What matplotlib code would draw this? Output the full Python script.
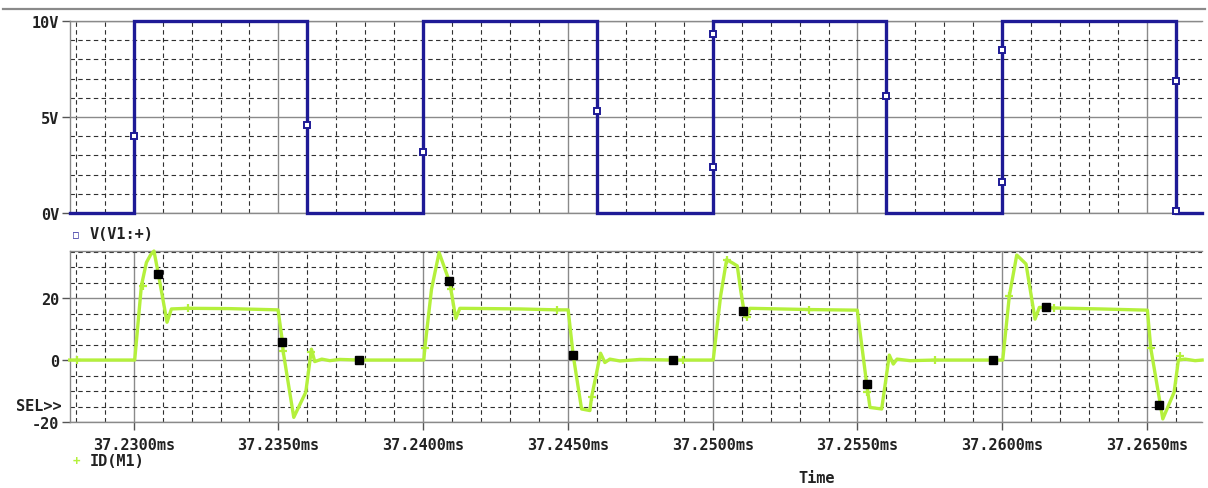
import matplotlib
matplotlib.use("Agg")
import matplotlib.pyplot as plt
from matplotlib.lines import Line2D
from matplotlib.ticker import MultipleLocator, FixedLocator
import numpy as np

# ---- data (time in ms) ----
t_start, t_end = 37.2278, 37.2669

# V(V1:+) gate drive: 0 / 10 V pulse train
v_low, v_high = 0.0, 10.0
rise_t = [37.2300, 37.2400, 37.2500, 37.2600]
fall_t = [37.2360, 37.2460, 37.2560, 37.2660]

# sample markers drawn on V(V1:+)
v_mark_t = [37.2300, 37.2360, 37.2400, 37.2460, 37.2500, 37.2500,
            37.2560, 37.2600, 37.2600, 37.2660, 37.2660]
v_mark_v = [4.0, 4.6, 3.2, 5.3, 9.3, 2.4, 6.1, 8.5, 1.6, 6.9, 0.1]

# ID(M1) drain current
id_t = [37.227789, 37.230035, 37.230266, 37.230439, 37.230587, 37.230701,
        37.230853, 37.231002, 37.231151, 37.231303, 37.231866, 37.233317,
        37.234986, 37.235138, 37.235159, 37.235529, 37.235943, 37.236140,
        37.236254, 37.236496, 37.236773, 37.237118, 37.237775, 37.240021,
        37.240055, 37.240287, 37.240549, 37.240895, 37.240954, 37.241126,
        37.241265, 37.243338, 37.244606, 37.245007, 37.245180, 37.245470,
        37.245757, 37.245815, 37.246126, 37.246275, 37.246448, 37.246793,
        37.247484, 37.248635, 37.250017, 37.250273, 37.250480, 37.250709,
        37.250847, 37.250974, 37.251078, 37.251171, 37.251285, 37.253324,
        37.254993, 37.255318, 37.255432, 37.255836, 37.256099, 37.256237,
        37.256365, 37.256814, 37.257678, 37.259692, 37.260017, 37.260245,
        37.260501, 37.260822, 37.261133, 37.261282, 37.261790, 37.263379,
        37.265014, 37.265131, 37.265546, 37.265936, 37.266085, 37.266316,
        37.266662, 37.266904]
id_val = [0.0, 0.0, 24.0, 31.5, 34.0, 35.2,
          27.7, 20.0, 12.2, 16.5, 16.7, 16.6,
          16.2, 5.9, 3.0, -18.5, -10.4, 3.5,
          -0.5, 0.3, -0.2, 0.2, 0.0, 0.0,
          3.8, 22.9, 34.7, 25.6, 22.9, 13.4,
          16.7, 16.5, 16.2, 16.2, 1.6, -15.8,
          -16.3, -12.0, 2.2, -0.8, 0.3, -0.3,
          0.2, 0.0, 0.0, 20.7, 32.4, 31.2,
          30.4, 22.0, 16.0, 13.8, 16.7, 16.3,
          16.1, -7.7, -15.3, -15.8, 1.6, -1.3,
          0.3, -0.2, 0.0, 0.0, 0.0, 20.7,
          33.9, 31.0, 13.2, 17.0, 16.8, 16.5,
          16.1, 3.8, -19.0, -10.4, 0.0, 0.3,
          -0.2, 0.0]

# black cursor squares on ID(M1)
sq_t = [37.230853, 37.235138, 37.237775, 37.240895, 37.245180, 37.248635,
        37.251054, 37.255318, 37.259692, 37.261503, 37.265428]
sq_v = [27.7, 5.9, 0.0, 25.6, 1.6, 0.0, 15.7, -7.7, 0.0, 17.0, -14.5]

# "+" sample markers on ID(M1)
plus_t = [37.228030, 37.230321, 37.231877, 37.235159, 37.236116, 37.240055,
          37.240954, 37.244606, 37.245815, 37.248981, 37.250480, 37.251171,
          37.253334, 37.255339, 37.257678, 37.260245, 37.261790, 37.265131,
          37.266143]
plus_v = [0.0, 24.0, 16.7, 3.0, 2.5, 3.8, 22.9, 16.2, -12.0, 0.0, 32.4, 13.8,
          16.3, -10.4, 0.0, 20.7, 16.8, 3.8, 1.4]

x_major = [37.2300, 37.2350, 37.2400, 37.2450, 37.2500, 37.2550, 37.2600, 37.2650]
x_labels = ["%.4fms" % t for t in x_major]

BLUE = "#1e1a96"
GREEN = "#b4f03c"
TXT = "#222222"
FONT = dict(family="DejaVu Sans Mono", weight="bold", size=11, color=TXT)

plt.rcParams["font.family"] = "DejaVu Sans Mono"
plt.rcParams["font.weight"] = "bold"

W, H = 1208, 489
fig = plt.figure(figsize=(W / 100, H / 100), dpi=100)


def px_box(left, top, right, bottom):
    return [left / W, 1 - bottom / H, (right - left) / W, (bottom - top) / H]


ax1 = fig.add_axes(px_box(70, 22, 1202, 214))
ax2 = fig.add_axes(px_box(70, 252, 1202, 423))


def style_axes(ax, ymaj, ymin, ylim):
    ax.set_xlim(t_start, t_end)
    ax.set_ylim(*ylim)
    ax.xaxis.set_major_locator(FixedLocator(x_major))
    ax.xaxis.set_minor_locator(MultipleLocator(0.001))
    ax.yaxis.set_major_locator(FixedLocator(ymaj))
    ax.yaxis.set_minor_locator(MultipleLocator(ymin))
    ax.grid(which="major", color="#8a8a8a", lw=1.0, ls="-")
    ax.grid(which="minor", color="#303030", lw=0.8, ls=(0, (4, 3)))
    ax.set_axisbelow(True)
    for s in ("left", "bottom", "top"):
        ax.spines[s].set_color("#8a8a8a")
        ax.spines[s].set_linewidth(1.0)
    ax.spines["right"].set_visible(False)
    ax.tick_params(axis="y", which="major", length=6, width=1, color="#555555",
                   pad=2, labelsize=11, labelcolor=TXT)
    ax.tick_params(which="minor", length=0)


# ---- top: V(V1:+) ----
style_axes(ax1, [0, 5, 10], 1, (0, 10))
v_t = [t_start]
v_v = [v_low]
for r, f in zip(rise_t, fall_t):
    v_t += [r, r, f, f]
    v_v += [v_low, v_high, v_high, v_low]
v_t.append(t_end)
v_v.append(v_low)
ax1.plot(v_t, v_v, color=BLUE, lw=2.4, solid_joinstyle="miter", clip_on=False, zorder=3)
ax1.plot(v_mark_t, v_mark_v, ls="none", marker="s", ms=4.2, mfc="white",
         mec=BLUE, mew=1.4, clip_on=False, zorder=4)
ax1.set_yticklabels(["0V", "5V", "10V"])
ax1.tick_params(axis="x", which="both", length=0, labelbottom=False)

# ---- bottom: ID(M1) ----
style_axes(ax2, [-20, 0, 20], 5, (-20, 35.2))
ax2.plot(id_t, id_val, color=GREEN, lw=2.4, clip_on=False, zorder=3)
ax2.plot(plus_t, plus_v, ls="none", marker="+", ms=6, mew=1.6, color=GREEN,
         clip_on=False, zorder=4)
ax2.plot(sq_t, sq_v, ls="none", marker="s", ms=6, color="black", zorder=5)
ax2.set_yticklabels(["-20", "0", "20"])
ax2.set_xticklabels(x_labels)
ax2.tick_params(axis="x", which="major", length=6, width=1, color="#555555",
                pad=5, labelsize=11, labelcolor=TXT)

# ---- legends and annotations ----
fig.text(76 / W, 1 - 235 / H, "\u25a1", ha="center", va="center",
         fontsize=7, color=BLUE)
fig.text(90 / W, 1 - 235 / H, "V(V1:+)", ha="left", va="center", **FONT)
fig.text(76 / W, 1 - 462 / H, "+", ha="center", va="center",
         fontsize=9, color=GREEN, weight="bold")
fig.text(90 / W, 1 - 462 / H, "ID(M1)", ha="left", va="center", **FONT)
fig.text(62 / W, 1 - 407 / H, "SEL>>", ha="right", va="center", **FONT)
fig.text(817 / W, 1 - 479 / H, "Time", ha="center", va="center", **FONT)

fig.add_artist(Line2D([3 / W, 1205 / W], [1 - 10 / H, 1 - 10 / H],
                      color="#8a8a8a", lw=1.6))

fig.savefig("out.png", dpi=100)
